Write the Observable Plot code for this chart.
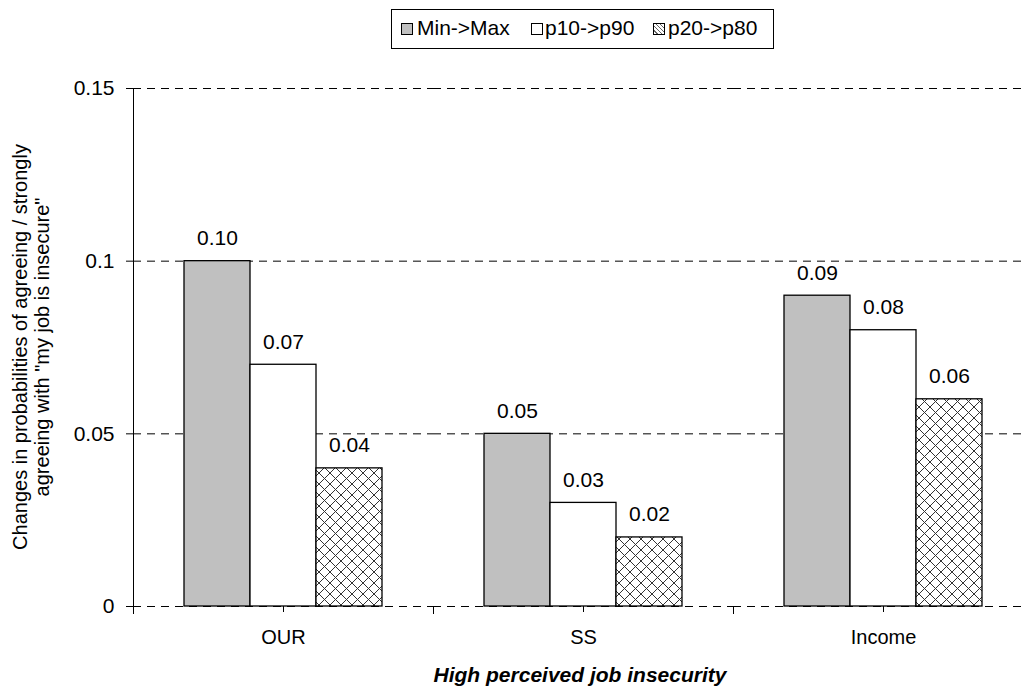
<!DOCTYPE html>
<html><head><meta charset="utf-8">
<script src="https://cdn.jsdelivr.net/npm/d3@7"></script>
<script src="https://cdn.jsdelivr.net/npm/@observablehq/plot@0.6"></script>
<style>
body{margin:0;width:1027px;height:690px;overflow:hidden;position:relative;background:#fff;font-family:"Liberation Sans",Arial,sans-serif;}
#chart{position:absolute;left:0;top:0;width:1033px;}
#chart svg{max-width:none !important;}
#legend{position:absolute;left:391px;top:9px;width:383px;height:40px;border:1px solid #000;box-sizing:border-box;font-size:21px;}
#legend .sw{position:absolute;top:13px;width:12px;height:12px;border:1px solid #000;box-sizing:border-box;}
#legend .tx{position:absolute;top:6px;line-height:24px;white-space:nowrap;}
#ylab{position:absolute;left:31px;top:347px;width:560px;transform:translate(-50%,-50%) rotate(-90deg);text-align:center;font-size:20px;line-height:22px;white-space:nowrap;}
#xlab{position:absolute;left:580px;top:664px;transform:translateX(-50%);font-size:21px;line-height:21px;font-weight:bold;font-style:italic;white-space:nowrap;}
</style></head>
<body>
<div id="chart"></div>
<div id="legend"></div>
<div id="ylab">Changes in probabilities of agreeing / strongly<br>agreeing with "my job is insecure"</div>
<div id="xlab">High perceived job insecurity</div>
<script>
const categories = ["OUR", "SS", "Income"];
const series = ["Min->Max", "p10->p90", "p20->p80"];
const minToMax = [0.10, 0.05, 0.09];
const p10ToP90 = [0.07, 0.03, 0.08];
const p20ToP80 = [0.04, 0.02, 0.06];
const yTicks = [0, 0.05, 0.1, 0.15];
const fills = ["#c0c0c0", "#ffffff", "url(#hatch)"];

const valuesBySeries = [minToMax, p10ToP90, p20ToP80];
const rows = [];
categories.forEach((c, i) => series.forEach((s, j) => rows.push({cat: c, series: s, value: valuesBySeries[j][i]})));

const svg = Plot.plot({
  width: 1033, height: 690,
  marginLeft: 133, marginRight: 0, marginTop: 88, marginBottom: 84,
  style: {fontFamily: '"Liberation Sans", Arial, sans-serif', background: "white", color: "#000", maxWidth: "none"},
  fx: {domain: categories, padding: 0, label: null},
  x: {domain: series, paddingInner: 0, paddingOuter: 0.75, axis: null},
  y: {domain: [0, 0.15], label: null},
  color: {domain: series, range: fills},
  marks: [
    Plot.ruleY(yTicks, {stroke: "#000", strokeWidth: 1, strokeDasharray: "8,6"}),
    Plot.barY(rows, {fx: "cat", x: "series", y: "value", fill: "series", stroke: "#000", strokeWidth: 1.3}),
    Plot.text(rows, {fx: "cat", x: "series", y: "value", text: d => d3.format(".2f")(d.value), dy: -16, lineAnchor: "bottom", fontSize: 21, fill: "#000"}),
    Plot.axisY({ticks: yTicks, tickFormat: d => String(d), tickSize: 7, tickPadding: 12, fontSize: 21, label: null}),
    Plot.frame({anchor: "left", facetAnchor: "left", stroke: "#000"}),
    Plot.frame({anchor: "left", stroke: "#000", insetTop: 518, insetBottom: -7}),
    Plot.axisFx({anchor: "bottom", tickSize: 6, tickPadding: 17, fontSize: 20, label: null})
  ]
});

const ns = "http://www.w3.org/2000/svg";
const defs = document.createElementNS(ns, "defs");
defs.innerHTML = '<pattern id="hatch" patternUnits="userSpaceOnUse" width="11" height="11">' +
  '<rect width="11" height="11" fill="#fff"/>' +
  '<path d="M0,0L11,11M0,11L11,0M-1,1L1,-1M10,12L12,10" stroke="#333" stroke-width="1"/></pattern>';
svg.insertBefore(defs, svg.firstChild);
document.getElementById("chart").appendChild(svg);

const legend = document.getElementById("legend");
const swX = [9, 139, 261];
const txX = [25, 153, 276];
series.forEach((s, j) => {
  const sw = document.createElement("div"); sw.className = "sw";
  sw.style.left = swX[j] + "px";
  if (j === 2) sw.style.background = "repeating-linear-gradient(45deg,#fff 0 2px,#666 2px 3px),#fff";
  else sw.style.background = fills[j];
  const t = document.createElement("div"); t.className = "tx";
  t.style.left = txX[j] + "px";
  t.textContent = s;
  legend.appendChild(sw); legend.appendChild(t);
});
</script>
</body></html>
